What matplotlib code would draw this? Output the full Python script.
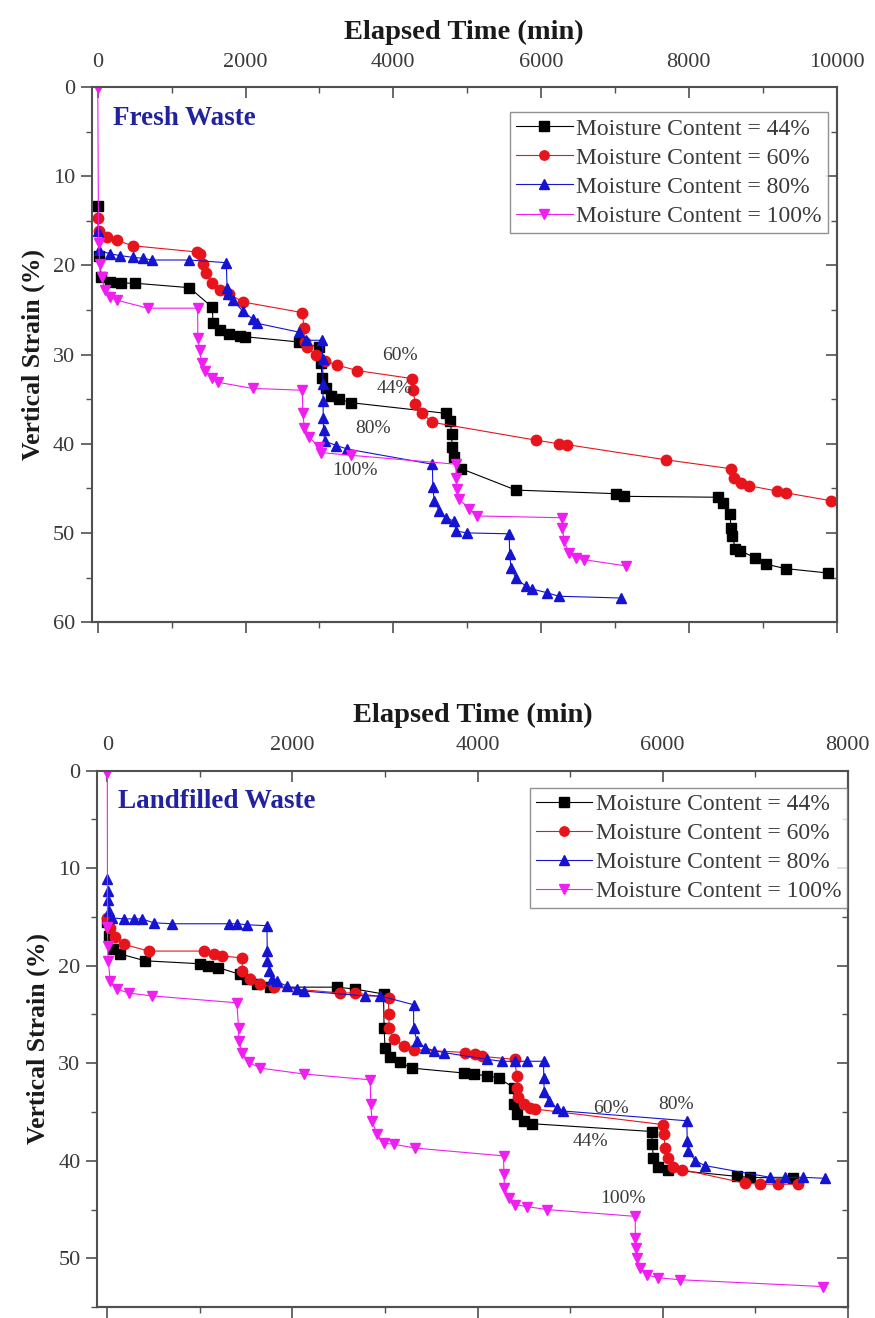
# -*- coding: utf-8 -*-
"""Vertical strain vs elapsed time for fresh and landfilled waste at four moisture contents."""
import matplotlib
matplotlib.use('Agg')
import matplotlib.pyplot as plt
from matplotlib.ticker import MultipleLocator

plt.rcParams['font.family'] = ['Liberation Serif', 'DejaVu Serif']

# ---- Fresh waste (top panel) ----
fresh_t44 = [0, 20, 40, 160, 320, 500, 1240, 1550, 1560, 1650, 1780, 1920, 1990, 2730, 3000, 3020,
             3040, 3090, 3160, 3270, 3430, 4720, 4770, 4790, 4795, 4820, 4920, 5660, 7010, 7120,
             8400, 8470, 8560, 8570, 8590, 8630, 8700, 8900, 9040, 9310, 9890]
fresh_s44 = [13.3, 19.0, 21.3, 21.9, 22.0, 22.0, 22.5, 24.7, 26.5, 27.3, 27.7, 27.9, 28.0, 28.6, 29.2, 31.0,
             32.6, 33.7, 34.6, 35.0, 35.4, 36.6, 37.4, 38.9, 40.4, 41.5, 42.8, 45.2, 45.6, 45.9,
             46.0, 46.6, 47.9, 49.4, 50.3, 51.8, 52.0, 52.8, 53.5, 54.0, 54.5]

fresh_t60 = [0, 10, 120, 260, 470, 1340, 1380, 1420, 1470, 1550, 1650, 1780, 1960, 2770, 2790, 2800,
             2830, 2960, 3070, 3245, 3515, 4260, 4265, 4300, 4390, 4530, 5930, 6240, 6350, 7690,
             8570, 8610, 8710, 8810, 9190, 9310, 9930]
fresh_s60 = [14.7, 16.1, 16.8, 17.2, 17.8, 18.5, 18.7, 19.8, 20.9, 22.0, 22.8, 23.2, 24.1, 25.3, 27.0, 28.6,
             29.2, 30.1, 30.7, 31.2, 31.8, 32.7, 34.0, 35.5, 36.6, 37.6, 39.6, 40.0, 40.1, 41.8,
             42.8, 43.8, 44.4, 44.7, 45.3, 45.5, 46.4]

fresh_t80 = [0, 20, 160, 300, 470, 610, 730, 1240, 1740, 1750, 1765, 1825, 1960, 2095, 2160, 2730,
             2825, 3040, 3045, 3048, 3050, 3052, 3056, 3070, 3230, 3380, 4530, 4535, 4555, 4620,
             4715, 4825, 4850, 5000, 5570, 5575, 5595, 5660, 5800, 5880, 6080, 6240, 7080]
fresh_s80 = [16.1, 18.3, 18.7, 18.9, 19.1, 19.2, 19.4, 19.4, 19.7, 22.5, 23.2, 23.9, 25.1, 26.0, 26.5, 27.5,
             28.4, 28.4, 30.5, 33.3, 35.2, 37.1, 38.5, 39.7, 40.2, 40.6, 42.3, 44.9, 46.4, 47.5,
             48.3, 48.7, 49.8, 50.0, 50.1, 52.4, 53.9, 55.1, 56.0, 56.3, 56.7, 57.1, 57.3]

fresh_t100 = [0, 10, 27, 54, 95, 162, 257, 676, 1351, 1355, 1378, 1405, 1446, 1540, 1622, 2095,
              2770, 2775, 2797, 2865, 3000, 3027, 3432, 4850, 4855, 4865, 4892, 5027, 5135, 6284,
              6290, 6311, 6378, 6473, 6581, 7149]
fresh_s100 = [0.1, 17.5, 19.8, 21.3, 22.8, 23.6, 23.9, 24.8, 24.8, 28.1, 29.5, 30.9, 31.8, 32.6, 33.1, 33.8,
              34.0, 36.6, 38.2, 39.3, 40.4, 41.0, 41.3, 42.3, 43.8, 45.1, 46.2, 47.3, 48.1, 48.3,
              49.4, 50.9, 52.2, 52.8, 53.0, 53.7]

# ---- Landfilled waste (bottom panel) ----
land_t44 = [0, 20, 60, 140, 410, 1004, 1090, 1200, 1436, 1508, 1616, 1760, 2480, 2678, 2984, 2990,
            3000, 3056, 3164, 3290, 3848, 3956, 4100, 4226, 4388, 4392, 4424, 4496, 4586, 5882,
            5886, 5900, 5954, 6062, 6800, 6944, 7412]
land_s44 = [15.5, 17.0, 18.3, 18.8, 19.5, 19.8, 20.0, 20.2, 20.9, 21.4, 21.9, 22.2, 22.2, 22.4, 22.9, 26.4,
            28.4, 29.4, 29.9, 30.5, 31.0, 31.1, 31.3, 31.5, 32.5, 34.2, 35.2, 35.9, 36.2, 37.0,
            38.3, 39.7, 40.6, 40.9, 41.6, 41.7, 41.8]

land_t60 = [0, 32, 86, 176, 446, 1040, 1148, 1238, 1454, 1460, 1544, 1652, 1796, 2516, 2678, 3038,
            3040, 3045, 3092, 3200, 3308, 3866, 3974, 4046, 4400, 4424, 4430, 4440, 4496, 4570,
            4625, 6008, 6012, 6026, 6062, 6116, 6206, 6890, 7052, 7250, 7466]
land_s60 = [15.1, 16.1, 17.1, 17.8, 18.5, 18.5, 18.8, 19.0, 19.2, 20.5, 21.4, 21.9, 22.2, 22.8, 22.8, 23.3,
            25.0, 26.4, 27.5, 28.2, 28.6, 28.9, 29.1, 29.3, 29.6, 31.3, 32.5, 33.5, 34.2, 34.6,
            34.7, 36.3, 37.3, 38.7, 39.7, 40.6, 40.9, 42.3, 42.4, 42.4, 42.4]

land_t80 = [0, 5, 10, 20, 50, 176, 284, 374, 500, 698, 1310, 1400, 1508, 1724, 1728, 1730,
            1745, 1780, 1832, 1940, 2048, 2120, 2786, 2948, 3308, 3310, 3344, 3434, 3524, 3632,
            4100, 4262, 4406, 4532, 4712, 4715, 4720, 4766, 4856, 4928, 6260, 6265, 6278, 6350,
            6458, 7160, 7322, 7520, 7754]
land_s80 = [11.1, 12.3, 13.3, 14.4, 15.1, 15.2, 15.2, 15.2, 15.6, 15.7, 15.7, 15.7, 15.8, 15.9, 18.5, 19.5,
            20.5, 21.4, 21.6, 22.1, 22.4, 22.6, 23.1, 23.1, 24.0, 26.4, 27.7, 28.4, 28.7, 28.9,
            29.6, 29.8, 29.8, 29.8, 29.8, 31.5, 32.9, 33.9, 34.6, 34.9, 35.9, 38.0, 39.0, 40.0,
            40.5, 41.7, 41.7, 41.7, 41.8]

land_t100 = [0, 2, 5, 10, 32, 105, 230, 482, 1400, 1418, 1420, 1454, 1526, 1652, 2120, 2840,
             2845, 2860, 2912, 2984, 3092, 3326, 4280, 4285, 4290, 4334, 4406, 4532, 4748, 5702,
             5705, 5710, 5720, 5756, 5828, 5954, 6188, 7736]
land_s100 = [0.2, 16.0, 18.0, 19.5, 21.6, 22.4, 22.8, 23.1, 23.8, 26.4, 27.7, 28.9, 29.9, 30.5, 31.1, 31.7,
             34.2, 35.9, 37.3, 38.2, 38.3, 38.7, 39.5, 41.4, 42.8, 43.8, 44.5, 44.7, 45.0, 45.7,
             47.9, 48.9, 50.0, 51.0, 51.7, 52.0, 52.2, 52.9]

labels = ['Moisture Content = 44%', 'Moisture Content = 60%',
          'Moisture Content = 80%', 'Moisture Content = 100%']
colors = ['black', '#e8141c', '#1414d2', '#f01ef0']
markers = ['s', 'o', '^', 'v']

fresh_notes = [('60%', 3850, 30.1), ('44%', 3780, 33.8), ('80%', 3480, 38.3), ('100%', 3170, 43.0)]
land_notes = [('60%', 5250, 34.6), ('80%', 5950, 34.2), ('44%', 5030, 38.0), ('100%', 5320, 43.9)]

txt_col = '#3a3a3a'
spine_col = '#505050'


def draw_panel(ax, series, xlim, ylim, xmajor, ymajor, title, notes, leg_anchor):
    for (t, s), lab, c, m in zip(series, labels, colors, markers):
        ax.plot(t, s, color=c, lw=0.8, marker=m, ms=7.5, mec=c, mfc=c, label=lab)
    ax.set_xlim(*xlim)
    ax.set_ylim(*ylim)

    ax.xaxis.tick_top()
    ax.xaxis.set_label_position('top')
    ax.xaxis.set_major_locator(MultipleLocator(xmajor))
    ax.xaxis.set_minor_locator(MultipleLocator(xmajor / 2))
    ax.yaxis.set_major_locator(MultipleLocator(ymajor))
    ax.yaxis.set_minor_locator(MultipleLocator(ymajor / 2))
    ax.tick_params(axis='x', which='major', direction='in', length=8, width=1.2, pad=11,
                   labelsize=16, colors=spine_col, labelcolor=txt_col)
    ax.tick_params(axis='x', which='minor', direction='in', length=4, width=1.0, colors=spine_col)
    ax.tick_params(axis='y', which='major', direction='out', length=8, width=1.2, pad=4,
                   labelsize=16, colors=spine_col, labelcolor=txt_col)
    ax.tick_params(axis='y', which='minor', direction='out', length=4, width=1.0, colors=spine_col)

    # bottom ticks point out, right ticks point in
    sx = ax.secondary_xaxis('bottom')
    sx.xaxis.set_major_locator(MultipleLocator(xmajor))
    sx.xaxis.set_minor_locator(MultipleLocator(xmajor / 2))
    sx.tick_params(which='major', direction='out', length=8, width=1.2, labelbottom=False, colors=spine_col)
    sx.tick_params(which='minor', direction='out', length=4, width=1.0, colors=spine_col)
    sy = ax.secondary_yaxis('right')
    sy.yaxis.set_major_locator(MultipleLocator(ymajor))
    sy.yaxis.set_minor_locator(MultipleLocator(ymajor / 2))
    sy.tick_params(which='major', direction='in', length=8, width=1.2, labelright=False, colors=spine_col)
    sy.tick_params(which='minor', direction='in', length=4, width=1.0, colors=spine_col)
    for sp in list(ax.spines.values()) + [sx.spines['bottom'], sy.spines['right']]:
        sp.set_linewidth(1.5)
        sp.set_color(spine_col)

    ax.set_xlabel('Elapsed Time (min)', fontsize=20.5, fontweight='bold', color='#1a1a1a', labelpad=10)
    ax.set_ylabel('Vertical Strain (%)', fontsize=18.5, fontweight='bold', color='#1a1a1a', labelpad=6)

    ax.text(0.028, 0.965, title, transform=ax.transAxes, ha='left', va='top',
            fontsize=19.5, fontweight='bold', color='#2222a0')
    for txt, x, y in notes:
        ax.text(x, y, txt, fontsize=14, color=txt_col, ha='left', va='center')

    leg = ax.legend(loc='upper right', bbox_to_anchor=leg_anchor, borderaxespad=0,
                    fontsize=17, frameon=True, fancybox=False, edgecolor='#777777',
                    handlelength=2.4, handletextpad=0.15, labelspacing=0.32,
                    borderpad=0.25, markerscale=0.9)
    leg.get_frame().set_linewidth(1.0)
    for t in leg.get_texts():
        t.set_color(txt_col)


fig = plt.figure(figsize=(8.75, 13.18), dpi=100)
ax1 = fig.add_axes([0.105, 0.528, 0.851, 0.406])
ax2 = fig.add_axes([0.111, 0.0083, 0.858, 0.407])

draw_panel(ax1,
           [(fresh_t44, fresh_s44), (fresh_t60, fresh_s60), (fresh_t80, fresh_s80), (fresh_t100, fresh_s100)],
           (-80, 10000), (60, 0), 2000, 10, 'Fresh Waste', fresh_notes, (0.988, 0.953))
draw_panel(ax2,
           [(land_t44, land_s44), (land_t60, land_s60), (land_t80, land_s80), (land_t100, land_s100)],
           (-110, 8000), (55, 0), 2000, 10, 'Landfilled Waste', land_notes, (0.999, 0.968))

fig.savefig('out.png', dpi=100)
